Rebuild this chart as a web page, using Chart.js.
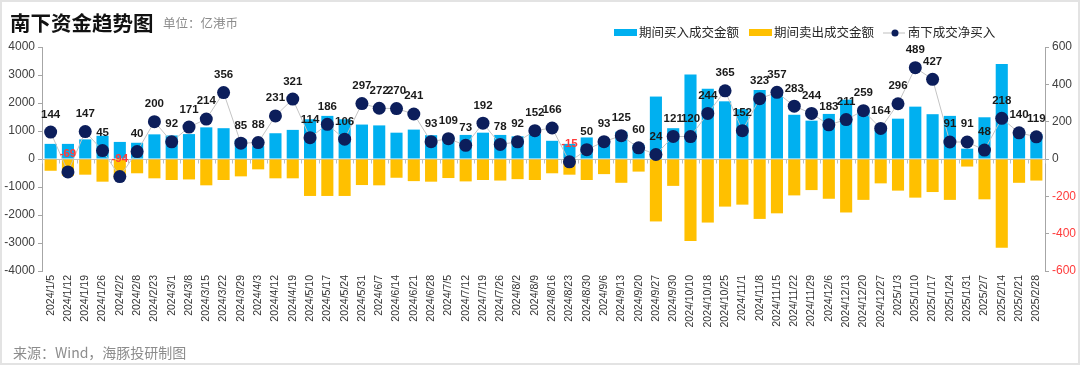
<!DOCTYPE html>
<html>
<head>
<meta charset="utf-8">
<script src="https://cdn.jsdelivr.net/npm/chart.js@4.4.1/dist/chart.umd.min.js"></script>
<style>
  html, body { margin: 0; padding: 0; background: #fff; }
  body { width: 1080px; height: 365px; position: relative; overflow: hidden;
         font-family: "Noto Sans CJK SC", "Liberation Sans", sans-serif; }
  #frame { position: absolute; left: 0; top: 0; width: 1076px; height: 361px; border: 2px solid #e3e3e3; }
  #wrap { position: absolute; left: 0; top: 0; width: 1080px; height: 365px; }
  .title { position: absolute; left: 10px; top: 7px; font-size: 20.5px; font-weight: bold; color: #111; }
  .unit { position: absolute; left: 163px; top: 13px; font-size: 12.5px; color: #8c8c8c; }
  .legend { position: absolute; top: 22px; font-size: 12.5px; color: #262626; white-space: nowrap; }
  .legend span.box { display: inline-block; width: 23px; height: 7px; vertical-align: middle; margin-right: 2px; position: relative; top: -1px; }
  .source { position: absolute; left: 13px; top: 342px; font-size: 14px; color: #8c8c8c; }
</style>
</head>
<body>
<div id="wrap"><canvas id="flowChart" width="1080" height="365"></canvas></div>
<div id="frame"></div>
<div class="title">南下资金趋势图</div>
<div class="unit">单位：亿港币</div>
<div class="legend" style="left:614px"><span class="box" style="background:#00B0F0"></span>期间买入成交金额</div>
<div class="legend" style="left:749px"><span class="box" style="background:#FFC000"></span>期间卖出成交金额</div>
<div class="legend" style="left:883px">
  <svg width="22" height="10" style="vertical-align:middle;position:relative;top:-1px"><line x1="0" y1="5" x2="22" y2="5" stroke="#bfbfbf" stroke-width="1"/><circle cx="12" cy="5" r="3.5" fill="#0C1E5B"/></svg>
  南下成交净买入</div>
<div class="source">来源：Wind，海豚投研制图</div>
<script>
const weeks = ["2024/1/5","2024/1/12","2024/1/19","2024/1/26","2024/2/2","2024/2/8","2024/2/23","2024/3/1","2024/3/8","2024/3/15",
  "2024/3/22","2024/3/29","2024/4/3","2024/4/12","2024/4/19","2024/5/10","2024/5/17","2024/5/24","2024/5/31","2024/6/7",
  "2024/6/14","2024/6/21","2024/6/28","2024/7/5","2024/7/12","2024/7/19","2024/7/26","2024/8/2","2024/8/9","2024/8/16",
  "2024/8/23","2024/8/30","2024/9/6","2024/9/13","2024/9/20","2024/9/27","2024/9/30","2024/10/10","2024/10/18","2024/10/25",
  "2024/11/1","2024/11/8","2024/11/15","2024/11/22","2024/11/29","2024/12/6","2024/12/13","2024/12/20","2024/12/27","2025/1/3",
  "2025/1/10","2025/1/17","2025/1/24","2025/1/31","2025/2/7","2025/2/14","2025/2/21","2025/2/28"];

// 期间买入成交金额 (left axis)
const buyAmount = [540,540,700,830,610,580,880,840,890,1130,
  1100,700,460,920,1040,1420,1540,1420,1230,1200,
  940,1050,850,790,860,940,860,810,900,650,
  540,770,630,975,510,2230,1100,3020,2510,2060,
  1780,2460,2300,1580,1370,1610,2120,1720,1030,1440,
  1870,1600,1540,370,1490,3390,990,890];

// 期间卖出成交金额 (left axis, negative)
const sellAmount = [-420,-600,-560,-810,-700,-510,-690,-750,-730,-940,
  -750,-620,-370,-690,-690,-1320,-1320,-1320,-930,-940,
  -670,-790,-810,-680,-800,-750,-770,-720,-750,-510,
  -560,-750,-540,-850,-450,-2230,-960,-2930,-2270,-1700,
  -1630,-2140,-1940,-1300,-1110,-1420,-1910,-1460,-870,-1130,
  -1380,-1180,-1460,-270,-1440,-3170,-850,-770];

// 南下成交净买入 (right axis)
const netBuy = [144,-69,147,45,-94,40,200,92,171,214,
  356,85,88,231,321,114,186,106,297,272,
  270,241,93,109,73,192,78,92,152,166,
  -15,50,93,125,60,24,121,120,244,365,
  152,323,357,283,244,183,211,259,164,296,
  489,427,91,91,48,218,140,119];

// zero line with small category ticks
const zeroLine = {
  id: 'zeroLine',
  beforeDatasetsDraw(chart) {
    const { ctx, chartArea, scales } = chart;
    const y0 = Math.round(scales.y.getPixelForValue(0)) + 0.5;
    const n = weeks.length;
    const step = (chartArea.right - chartArea.left) / n;
    ctx.save();
    ctx.strokeStyle = '#bfbfbf';
    ctx.lineWidth = 1;
    ctx.beginPath();
    ctx.moveTo(chartArea.left, y0);
    ctx.lineTo(chartArea.right, y0);
    for (let i = 0; i <= n; i++) {
      const x = Math.round(chartArea.left + i * step) + 0.5;
      ctx.moveTo(x, y0);
      ctx.lineTo(x, y0 + 4);
    }
    ctx.stroke();
    ctx.restore();
  }
};

// value labels above the net-buy dots
const netLabels = {
  id: 'netLabels',
  afterDatasetsDraw(chart) {
    const { ctx } = chart;
    const meta = chart.getDatasetMeta(0);
    ctx.save();
    ctx.textAlign = 'center';
    ctx.textBaseline = 'bottom';
    meta.data.forEach((pt, i) => {
      const v = netBuy[i];
      ctx.font = 'bold 11.5px "Liberation Sans", sans-serif';
      ctx.fillStyle = v < 0 ? '#ff3b3b' : '#1a1a1a';
      ctx.fillText(v, pt.x, pt.y - 12);
    });
    ctx.restore();
  }
};

new Chart(document.getElementById('flowChart'), {
  type: 'bar',
  data: {
    labels: weeks,
    datasets: [
      {
        type: 'line',
        label: '南下成交净买入',
        data: netBuy,
        yAxisID: 'y2',
        borderColor: '#c4c4c4',
        borderWidth: 1,
        pointRadius: 6.5,
        pointBackgroundColor: '#0C1E5B',
        pointBorderColor: '#0C1E5B',
        pointBorderWidth: 0,
        tension: 0,
        order: 0
      },
      {
        label: '期间买入成交金额',
        data: buyAmount,
        backgroundColor: '#00B0F0',
        barPercentage: 0.7,
        categoryPercentage: 1,
        order: 1
      },
      {
        label: '期间卖出成交金额',
        data: sellAmount,
        backgroundColor: '#FFC000',
        barPercentage: 0.7,
        categoryPercentage: 1,
        order: 2
      }
    ]
  },
  options: {
    responsive: false,
    animation: false,
    layout: { padding: { top: 47, bottom: 0, left: 0, right: 0 } },
    plugins: {
      legend: { display: false },
      tooltip: { enabled: false }
    },
    scales: {
      x: {
        stacked: true,
        grid: { display: false, drawTicks: false },
        border: { display: false },
        ticks: {
          autoSkip: false,
          maxRotation: 90,
          minRotation: 90,
          padding: 4,
          color: '#333',
          font: { size: 10.5, family: '"Liberation Sans", sans-serif' }
        },
        afterFit: s => { s.height = 94; }
      },
      y: {
        position: 'left',
        stacked: true,
        min: -4000,
        max: 4000,
        ticks: { stepSize: 1000, color: '#404040', padding: 3,
                 callback: v => String(v),
                 font: { size: 12, family: '"Liberation Sans", sans-serif' } },
        grid: { drawOnChartArea: false, tickLength: 4, color: '#a6a6a6' },
        border: { color: '#a6a6a6' },
        afterFit: s => { s.width = 42; }
      },
      y2: {
        position: 'right',
        min: -600,
        max: 600,
        ticks: { stepSize: 200, padding: 3,
                 callback: v => String(v),
                 color: c => c.tick.value < 0 ? '#ff3b3b' : '#404040',
                 font: { size: 12, family: '"Liberation Sans", sans-serif' } },
        grid: { drawOnChartArea: false, tickLength: 4, color: '#a6a6a6' },
        border: { color: '#a6a6a6' },
        afterFit: s => { s.width = 35; }
      }
    }
  },
  plugins: [zeroLine, netLabels]
});
</script>
</body>
</html>
